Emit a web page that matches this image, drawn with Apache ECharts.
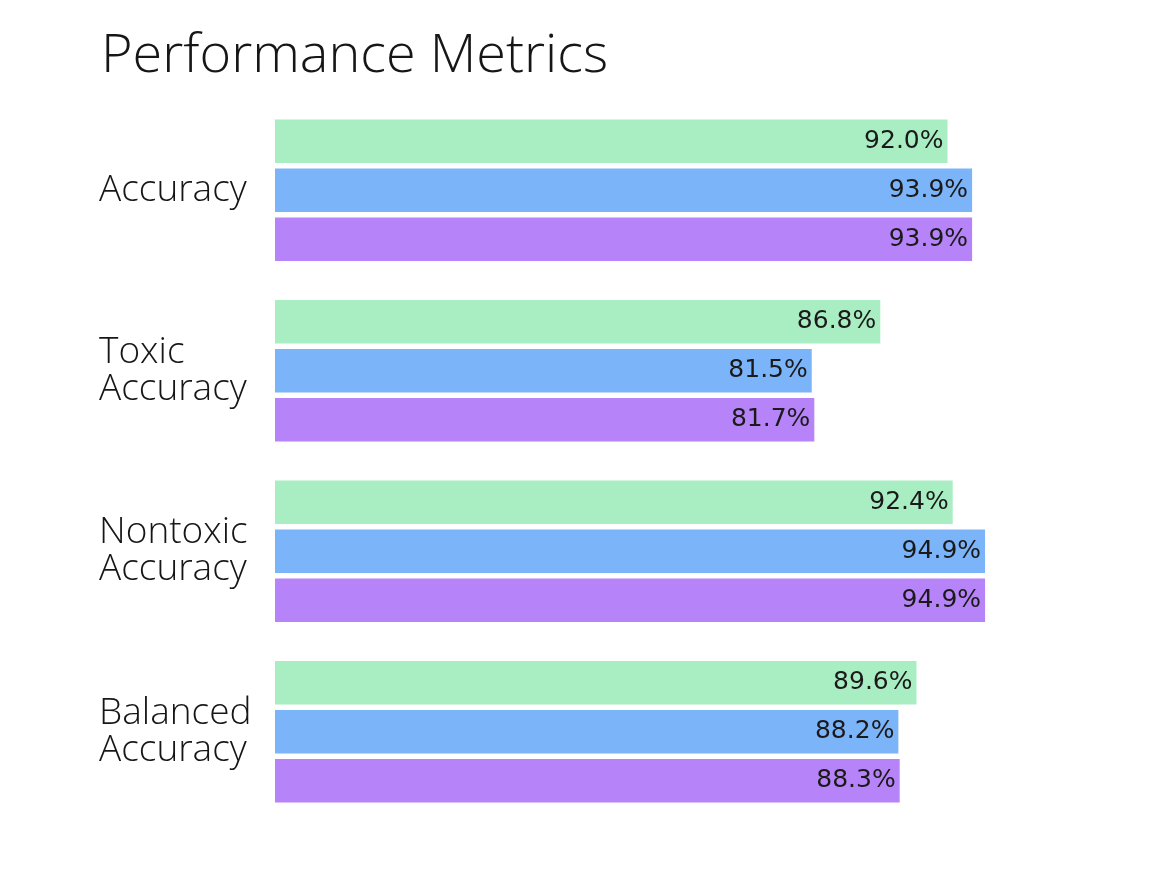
<!DOCTYPE html>
<html>
<head>
<meta charset="utf-8">
<script src="https://cdn.jsdelivr.net/npm/echarts@6/dist/echarts.min.js"></script>
<style>
  html, body { margin: 0; padding: 0; background: #fff; }
  #chart { width: 1165px; height: 889px; }
</style>
</head>
<body>
<div id="chart"></div>
<script>
// categories (top to bottom)
var categories = ['Accuracy', 'Toxic\nAccuracy', 'Nontoxic\nAccuracy', 'Balanced\nAccuracy'];
// series values, in percent
var seriesA = [92.0, 86.8, 92.4, 89.6];
var seriesB = [93.9, 81.5, 94.9, 88.2];
var seriesC = [93.9, 81.7, 94.9, 88.3];
var colors = ['#a9eec3', '#7cb4f9', '#b684f8'];

var chart = echarts.init(document.getElementById('chart'));

function makeSeries(name, data, color) {
    return {
        name: name,
        type: 'bar',
        data: data,
        barCategoryGap: '21.7%',
        barGap: '13%',
        itemStyle: { color: color },
        label: {
            show: true,
            position: 'insideRight',
            distance: 4,
            color: '#1a1a1a',
            fontFamily: 'DejaVu Sans',
            fontSize: 25,
            formatter: function (p) { return p.value.toFixed(1) + '%'; }
        },
        emphasis: { disabled: true }
    };
}

var option = {
    animation: false,
    title: {
        text: 'Performance Metrics',
        left: 96,
        top: 25,
        textStyle: {
            fontFamily: 'Open Sans',
            fontWeight: 300,
            fontSize: 54,
            color: '#161616'
        }
    },
    grid: {
        left: 275,
        right: 114,
        top: 100,
        bottom: 67
    },
    xAxis: {
        type: 'value',
        min: 40,
        max: 100,
        show: false
    },
    yAxis: {
        type: 'category',
        data: categories,
        inverse: true,
        axisLine: { show: false },
        axisTick: { show: false },
        splitLine: { show: false },
        axisLabel: {
            align: 'left',
            margin: 176,
            padding: [6, 0, 0, 0],
            fontFamily: 'Open Sans',
            fontWeight: 300,
            fontSize: 37,
            lineHeight: 37,
            color: '#161616'
        }
    },
    series: [
        makeSeries('A', seriesA, colors[0]),
        makeSeries('B', seriesB, colors[1]),
        makeSeries('C', seriesC, colors[2])
    ]
};

chart.setOption(option);
</script>
</body>
</html>
